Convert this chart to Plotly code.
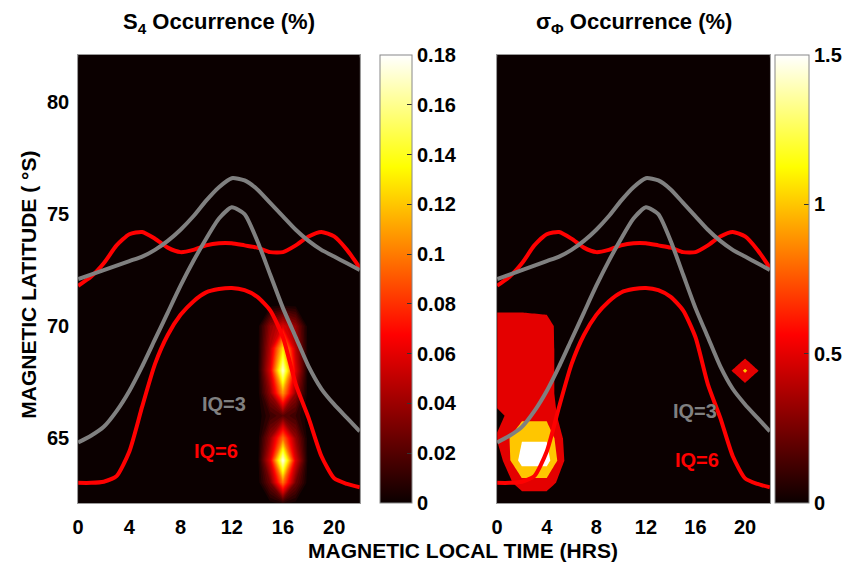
import plotly.graph_objects as go

# ---------------- data ----------------
hours = list(range(23))
iq6_poleward = [71.8, 72.2, 72.8, 73.6, 74.1, 74.2, 73.9, 73.5, 73.3, 73.4, 73.6, 73.7,
                73.7, 73.6, 73.5, 73.3, 73.3, 73.6, 74.0, 74.2, 74.0, 73.4, 72.6]
iq6_equatorward = [63.0, 63.0, 63.05, 63.3, 64.4, 66.4, 68.3, 69.6, 70.5, 71.1, 71.5, 71.65,
                   71.7, 71.6, 71.3, 70.7, 69.5, 67.4, 65.9, 64.2, 63.2, 62.95, 62.8]
iq3_poleward = [72.1, 72.3, 72.5, 72.7, 72.9, 73.1, 73.4, 73.8, 74.3, 74.9, 75.6, 76.2,
                76.6, 76.5, 76.1, 75.5, 74.9, 74.3, 73.8, 73.4, 73.1, 72.8, 72.5]
iq3_equatorward = [64.8, 65.1, 65.5, 66.2, 67.1, 68.2, 69.4, 70.6, 71.8, 72.9, 73.9, 74.8,
                   75.3, 75.0, 73.8, 72.3, 70.8, 69.5, 68.2, 67.2, 66.5, 65.9, 65.3]

# S4 occurrence grid (MLT step 1 h, latitude step 1 deg); only non-zero cells listed
s4_mlt = list(range(0, 23, 1))
s4_lat = list(range(62, 83, 1))
s4_cells = [  # (MLT, lat, %)
    (16, 63, 0.10), (16, 64, 0.18), (16, 65, 0.10), (16, 66, 0.025), (16, 67, 0.11),
    (16, 68, 0.175), (16, 69, 0.13), (16, 70, 0.06),
    (15, 63, 0.03), (15, 64, 0.06), (15, 65, 0.04), (15, 66, 0.015), (15, 67, 0.04),
    (15, 68, 0.06), (15, 69, 0.05), (15, 70, 0.04),
    (17, 63, 0.03), (17, 64, 0.06), (17, 65, 0.04), (17, 66, 0.015), (17, 67, 0.04),
    (17, 68, 0.06), (17, 69, 0.05), (17, 70, 0.04),
]

# sigma-phi occurrence grid (MLT step 2 h, latitude step 1 deg); only non-zero cells listed
sp_mlt = list(range(0, 23, 2))
sp_lat = list(range(62, 83, 1))
sp_cells = [  # (MLT, lat, %)
    (0, 64, 0.13), (0, 65, 0.55), (0, 66, 0.35), (0, 67, 0.8), (0, 68, 0.8), (0, 69, 0.8),
    (0, 70, 0.8), (0, 71, 0.3),
    (2, 63, 0.8), (2, 64, 1.75), (2, 65, 1.45), (2, 66, 0.85), (2, 67, 0.8), (2, 68, 0.8),
    (2, 69, 0.8), (2, 70, 0.8), (2, 71, 0.3),
    (4, 63, 0.8), (4, 64, 1.75), (4, 65, 1.45), (4, 66, 0.85), (4, 67, 0.72), (4, 68, 0.72),
    (4, 69, 0.72), (4, 70, 0.7), (4, 71, 0.3),
    (20, 68, 1.1),
]

s4_ticks = [0, 0.02, 0.04, 0.06, 0.08, 0.1, 0.12, 0.14, 0.16, 0.18]
s4_ticktext = ["0", "0.02", "0.04", "0.06", "0.08", "0.1", "0.12", "0.14", "0.16", "0.18"]
sp_ticks = [0, 0.5, 1, 1.5]
sp_ticktext = ["0", "0.5", "1", "1.5"]
x_ticks = [0, 4, 8, 12, 16, 20]
y_ticks = [65, 70, 75, 80]


def grid(mlt, lat, cells):
    z = [[0.0 for _ in mlt] for _ in lat]
    for m, la, v in cells:
        z[lat.index(la)][mlt.index(m)] = v
    return z


# ---------------- style ----------------
W, H = 848, 564
HOT = [[0.0, "rgb(11,0,0)"], [0.375, "rgb(255,0,0)"], [0.75, "rgb(255,255,0)"],
       [1.0, "rgb(255,255,255)"]]
BG = "rgb(11,0,0)"
RED = "#ff0000"
GRAY = "#808080"
FONT = "Liberation Sans, Arial, sans-serif"

px0, px1 = 73, 358
qx0, qx1 = 497, 773
ytop, ybot = 55, 503
dom_y = [1 - ybot / H, 1 - ytop / H]

fig = go.Figure()

# left: S4 contour fill
fig.add_trace(go.Contour(
    x=s4_mlt, y=s4_lat, z=grid(s4_mlt, s4_lat, s4_cells),
    colorscale=HOT, showscale=False,
    contours=dict(coloring="fill", start=0.005, end=0.18, size=0.005, showlines=False),
    line=dict(width=0, smoothing=0), xaxis="x", yaxis="y", hoverinfo="skip"))

# right: sigma-phi contour fill
fig.add_trace(go.Contour(
    x=sp_mlt, y=sp_lat, z=grid(sp_mlt, sp_lat, sp_cells),
    colorscale=HOT, showscale=False,
    contours=dict(coloring="fill", start=0.5, end=1.5, size=0.5, showlines=False),
    line=dict(width=0, smoothing=0), xaxis="x2", yaxis="y2", hoverinfo="skip"))

for xa, ya in (("x", "y"), ("x2", "y2")):
    for series, col in ((iq6_poleward, RED), (iq6_equatorward, RED),
                        (iq3_poleward, GRAY), (iq3_equatorward, GRAY)):
        fig.add_trace(go.Scatter(x=hours, y=series, mode="lines",
                                 line=dict(color=col, width=4, shape="spline", smoothing=0.6),
                                 xaxis=xa, yaxis=ya, showlegend=False, hoverinfo="skip"))

tickfont = dict(family=FONT, size=20, color="black", weight="bold")


def cbar(x0, thick, vals, text):
    return dict(x=x0 / W, xanchor="left", xpad=0, y=dom_y[0], yanchor="bottom", ypad=0,
                len=ybot - ytop, lenmode="pixels", thickness=thick, thicknessmode="pixels",
                outlinecolor="#888888", outlinewidth=1, tickvals=vals, ticktext=text,
                ticks="inside", ticklen=5, tickcolor="#333333", tickfont=tickfont)


# dummy traces to carry continuous colourbars
fig.add_trace(go.Scatter(x=[-50], y=[0], mode="markers", xaxis="x", yaxis="y",
                         marker=dict(color=[0], colorscale=HOT, cmin=0, cmax=0.18, size=1,
                                     showscale=True,
                                     colorbar=cbar(378, 32, s4_ticks, s4_ticktext)),
                         showlegend=False, hoverinfo="skip"))
fig.add_trace(go.Scatter(x=[-50], y=[0], mode="markers", xaxis="x2", yaxis="y2",
                         marker=dict(color=[0], colorscale=HOT, cmin=0, cmax=1.5, size=1,
                                     showscale=True,
                                     colorbar=cbar(778, 34, sp_ticks, sp_ticktext)),
                         showlegend=False, hoverinfo="skip"))

axis_common = dict(showgrid=False, zeroline=False, showline=True, mirror=True,
                   linecolor="#9a9a9a", linewidth=1, ticks="outside", ticklen=6,
                   tickcolor="rgba(0,0,0,0)", tickfont=tickfont)

fig.update_layout(
    width=W, height=H, margin=dict(l=0, r=0, t=0, b=0),
    paper_bgcolor="white", plot_bgcolor=BG, showlegend=False,
    xaxis=dict(domain=[px0 / W, px1 / W], range=[0, 22], tickvals=x_ticks, anchor="y",
               **axis_common),
    yaxis=dict(domain=dom_y, range=[62.1, 82.1], tickvals=y_ticks, anchor="x",
               **{**axis_common, "ticklen": 4}),
    xaxis2=dict(domain=[qx0 / W, qx1 / W], range=[0, 22], tickvals=x_ticks, anchor="y2",
                **axis_common),
    yaxis2=dict(domain=dom_y, range=[62.1, 82.1], tickvals=y_ticks, anchor="x2",
                showticklabels=False, **axis_common),
)

title_font = dict(family=FONT, size=22, color="black", weight="bold")
axis_title_font = dict(family=FONT, size=21, color="black", weight="bold")
ann = [
    dict(text="S<sub>4</sub> Occurrence (%)", x=(px0 + px1) / 2 / W, y=1 - 23 / H,
         xref="paper", yref="paper", showarrow=False, xanchor="center",
         yanchor="middle", font=title_font),
    dict(text="σ<sub>Φ</sub> Occurrence (%)", x=(qx0 + qx1) / 2 / W, y=1 - 23 / H,
         xref="paper", yref="paper", showarrow=False, xanchor="center",
         yanchor="middle", font=title_font),
    dict(text="MAGNETIC LOCAL TIME (HRS)", x=462 / W, y=1 - 550 / H,
         xref="paper", yref="paper", showarrow=False, xanchor="center",
         yanchor="middle", font=axis_title_font),
    dict(text="MAGNETIC LATITUDE ( °S)", x=22 / W, y=1 - 285 / H,
         xref="paper", yref="paper", showarrow=False, xanchor="center",
         yanchor="middle", textangle=-90, font=axis_title_font),
]
labels = [("x", "y", 11.4, 66.5, "IQ=3", GRAY), ("x", "y", 10.8, 64.4, "IQ=6", RED),
          ("x2", "y2", 16.0, 66.2, "IQ=3", GRAY), ("x2", "y2", 16.1, 64.0, "IQ=6", RED)]
for xr, yr, xv, yv, t, c in labels:
    ann.append(dict(text=t, x=xv, y=yv, xref=xr, yref=yr, showarrow=False,
                    font=dict(family=FONT, size=20, color=c, weight="bold")))
fig.update_layout(annotations=ann)

fig.write_html("out.html")
